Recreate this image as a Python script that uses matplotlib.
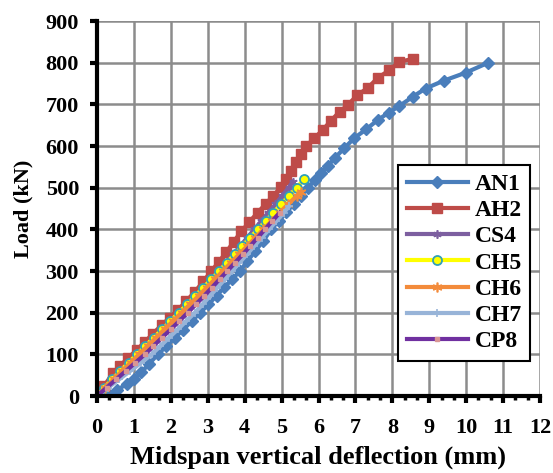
import matplotlib
matplotlib.use("Agg")
import matplotlib.pyplot as plt
from matplotlib.ticker import MultipleLocator

plt.rcParams['font.family'] = ['Liberation Serif', 'DejaVu Serif']
plt.rcParams['font.weight'] = 'bold'

# ---- data ----
an1_x = [0, 0.3, 0.55, 0.8, 1.0, 1.2, 1.42, 1.65, 1.87, 2.1, 2.33, 2.57, 2.8, 3.02, 3.24, 3.45, 3.66,
         3.87, 4.07, 4.28, 4.5, 4.72, 4.93, 5.13, 5.33, 5.53, 5.72, 5.9, 6.07, 6.25, 6.45, 6.7, 6.97,
         7.29, 7.6, 7.9, 8.19, 8.55, 8.9, 9.4, 9.99, 10.6]
an1_y = [0, 5, 15, 28, 40, 57, 78, 100, 119, 139, 159, 180, 200, 220, 241, 261, 280,
         300, 323, 347, 372, 400, 421, 441, 461, 481, 500, 518, 535, 552, 572, 595, 619,
         640, 662, 680, 696, 718, 738, 757, 776, 800]

ah2_x = [0, 0.2, 0.43, 0.63, 0.84, 1.07, 1.3, 1.52, 1.75, 1.97, 2.19, 2.42, 2.65, 2.88, 3.1, 3.3,
         3.5, 3.7, 3.91, 4.13, 4.35, 4.57, 4.78, 4.99, 5.12, 5.26, 5.4, 5.53, 5.67, 5.89, 6.11,
         6.34, 6.57, 6.79, 7.05, 7.33, 7.6, 7.92, 8.19, 8.55]
ah2_y = [0, 25, 55, 73, 91, 110, 130, 150, 170, 188, 206, 228, 250, 275, 300, 322,
         345, 370, 395, 418, 440, 461, 481, 502, 520, 541, 562, 581, 600, 619, 638,
         661, 682, 698, 722, 739, 763, 782, 802, 809]

cs4_x = [0, 0.21, 0.43, 0.65, 0.88, 1.1, 1.33, 1.56, 1.79, 2.01, 2.23, 2.45, 2.67, 2.88, 3.09,
         3.29, 3.49, 3.69, 3.88, 4.07, 4.26, 4.45, 4.64, 4.83, 5.01, 5.19, 5.3]
cs4_y = [0, 20, 40, 60, 80, 100, 120, 140, 160, 180, 200, 220, 240, 260, 280,
         300, 320, 340, 360, 380, 400, 420, 440, 460, 480, 500, 514]

ch5_x = [0, 0.2, 0.41, 0.63, 0.86, 1.08, 1.31, 1.54, 1.77, 1.99, 2.22, 2.44, 2.66, 2.88, 3.1,
         3.31, 3.52, 3.73, 3.94, 4.15, 4.36, 4.57, 4.78, 4.99, 5.2, 5.41, 5.62]
ch5_y = [0, 20, 40, 60, 80, 100, 120, 140, 160, 180, 200, 220, 240, 260, 280,
         300, 320, 340, 360, 380, 400, 420, 440, 460, 480, 500, 521]

ch6_x = [0, 0.22, 0.45, 0.68, 0.91, 1.14, 1.37, 1.6, 1.83, 2.06, 2.29, 2.52, 2.75, 2.97, 3.19,
         3.41, 3.63, 3.85, 4.07, 4.29, 4.51, 4.73, 4.95, 5.17, 5.41, 5.53]
ch6_y = [0, 20, 40, 60, 80, 100, 120, 140, 160, 180, 200, 220, 240, 260, 280,
         300, 320, 340, 360, 380, 400, 420, 440, 460, 480, 490]

ch7_x = [0, 0.3, 0.6, 0.9, 1.2, 1.48, 1.72, 1.95, 2.19, 2.42, 2.65, 2.86, 3.06, 3.26, 3.46,
         3.66, 3.86, 4.06, 4.26, 4.46, 4.66, 4.86, 5.06, 5.2]
ch7_y = [0, 20, 40, 60, 80, 100, 120, 140, 160, 180, 200, 220, 240, 260, 280,
         300, 320, 340, 360, 380, 400, 420, 440, 455]

cp8_x = [0, 0.26, 0.52, 0.78, 1.04, 1.3, 1.53, 1.76, 2.0, 2.23, 2.46, 2.68, 2.9, 3.11, 3.32,
         3.53, 3.74, 3.95, 4.15, 4.35, 4.55, 4.75, 4.95]
cp8_y = [0, 20, 40, 60, 80, 100, 120, 140, 160, 180, 200, 220, 240, 260, 280,
         300, 320, 340, 360, 380, 400, 420, 440]

x_ticks = list(range(0, 13))
y_ticks = list(range(0, 901, 100))

# ---- figure ----
fig = plt.figure(figsize=(5.53, 4.73), dpi=100)
ax = fig.add_axes([97/553, 1-396/473, (540-97)/553, (396-21)/473])

lw = 3.0
ax.plot(an1_x, an1_y, color='#4a7ebb', lw=lw, marker='D', ms=6.5, mfc='#4a7ebb', mec='#4a7ebb', label='AN1')
ax.plot(ah2_x, ah2_y, color='#be4b48', lw=lw, marker='s', ms=7, mfc='#be4b48', mec='#be4b48', label='AH2')
ax.plot(cs4_x, cs4_y, color='#7d5fa0', lw=lw, marker=(6, 2, 0), ms=6, mec='#7d5fa0', mew=1.2, label='CS4')
ax.plot(ch5_x, ch5_y, color='#ffff00', lw=lw, marker='o', ms=6.5, mfc='#ffff00', mec='#31a0b8', mew=1.3, label='CH5')
ax.plot(ch6_x, ch6_y, color='#f38b3b', lw=lw, marker=(6, 2, 0), ms=7, mec='#f38b3b', mew=1.2, label='CH6')
ax.plot(ch7_x, ch7_y, color='#98b4d8', lw=lw, marker='+', ms=6, mec='#98b4d8', mew=1.2, label='CH7')
ax.plot(cp8_x, cp8_y, color='#7030a0', lw=lw, marker='s', ms=3.5, mfc='#d99694', mec='#d99694', label='CP8')

ax.set_xlim(0, 12)
ax.set_ylim(0, 900)
ax.set_xticks(x_ticks)
ax.set_yticks(y_ticks)
ax.xaxis.set_minor_locator(MultipleLocator(1/3))

ax.grid(True, which='major', color='#8c8c8c', lw=1.8)
ax.set_axisbelow(True)
for s in ['top', 'right']:
    ax.spines[s].set_visible(False)
for s in ['left', 'bottom']:
    ax.spines[s].set_linewidth(3)
    ax.spines[s].set_color('black')

ax.tick_params(axis='both', which='major', direction='out', length=5, width=3, labelsize=16)
ax.tick_params(axis='y', which='major', pad=8)
ax.tick_params(axis='x', which='major', pad=11)
ax.tick_params(axis='x', which='minor', direction='out', length=3, width=2.5)
for lab in ax.get_xticklabels() + ax.get_yticklabels():
    lab.set_fontweight('bold')

ax.set_xlabel('Midspan vertical deflection (mm)', fontsize=19, fontweight='bold', labelpad=5)
ax.set_ylabel('Load (kN)', fontsize=16, fontweight='bold', labelpad=9)

leg = ax.legend(loc='upper left', bbox_to_anchor=(0.68, 0.616), fontsize=17, frameon=True,
                fancybox=False, edgecolor='black', framealpha=1, handlelength=2.6,
                labelspacing=0.2, borderpad=0.35, handletextpad=0.3, borderaxespad=0)
leg.get_frame().set_linewidth(1.5)
for t in leg.get_texts():
    t.set_fontweight('bold')

fig.savefig('out.png', dpi=100)
